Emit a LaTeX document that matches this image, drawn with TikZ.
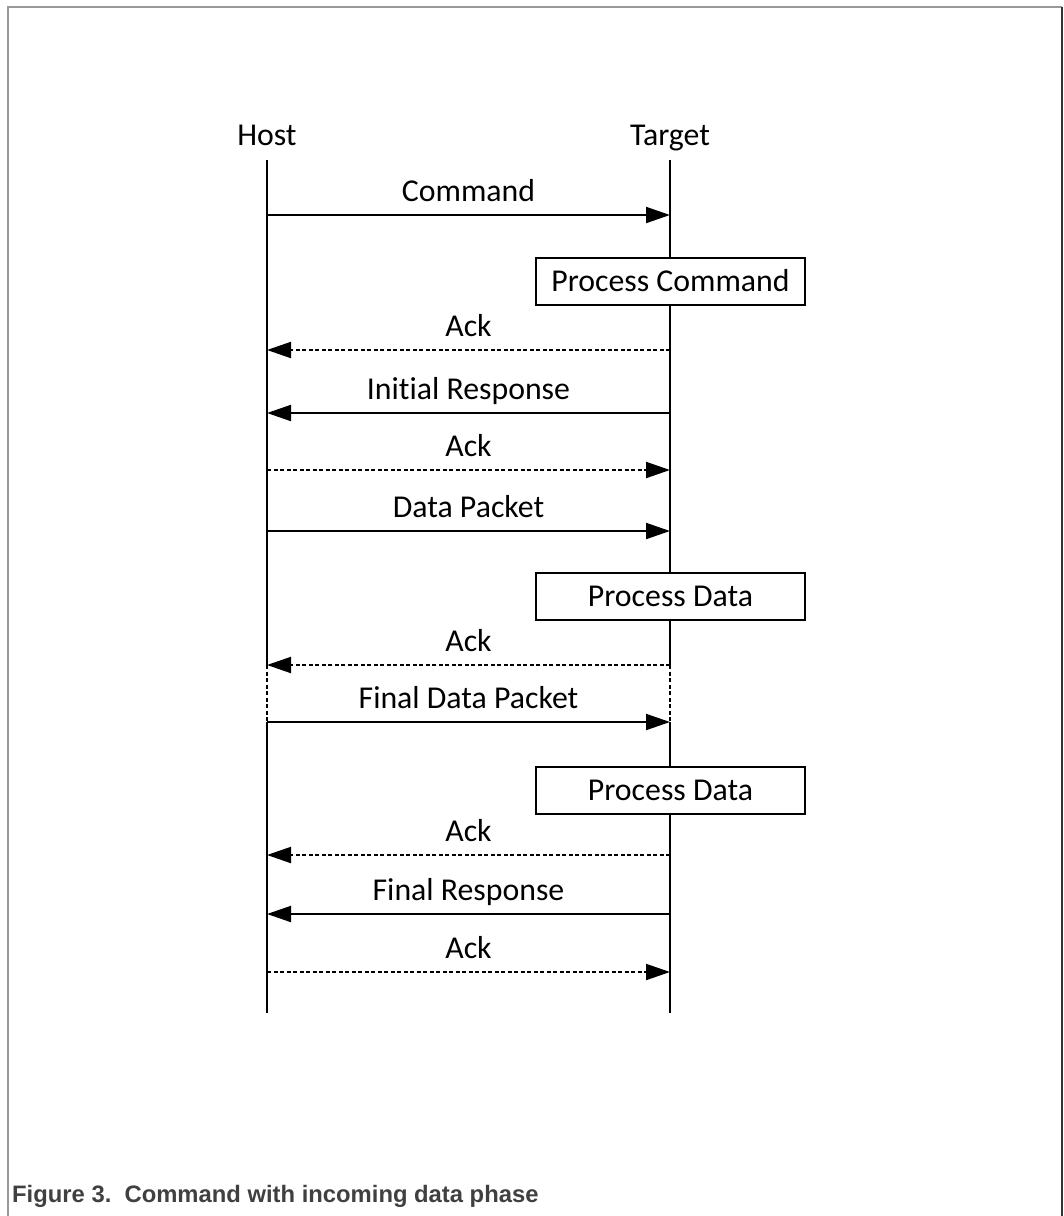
\documentclass[tikz,border=0pt]{standalone}
\usepackage{fontspec}
\setmainfont[Ligatures=NoCommon]{Carlito}
\newfontfamily\capfont{Liberation Sans}
\usetikzlibrary{arrows.meta}
\begin{document}
\begin{tikzpicture}[x=1pt,y=-1pt,
  lbl/.style={font=\fontsize{31.8}{38}\selectfont, inner sep=0pt, anchor=base},
  life/.style={line width=2pt},
  msg/.style={line width=2pt, -{Triangle[length=24pt,width=16pt]}},
  reply/.style={msg, dash pattern=on 4pt off 2.5pt},
  gap/.style={line width=2pt, dash pattern=on 4pt off 2.5pt},
  procbox/.style={draw, line width=2pt, fill=white, minimum width=269pt,
    minimum height=47pt, inner sep=0pt, font=\fontsize{31.8}{38}\selectfont}]
  \useasboundingbox (0,0) rectangle (1064,1216);

  % page frame
  \draw[line width=2pt, black!40] (8,1216) -- (8,7) -- (1062,7);
  \draw[line width=2pt, black!80] (1062,7) -- (1062,1216);

  % participants
  \node[lbl] (host) at (267,145) {Host};
  \node[lbl] (target) at (670,145) {Target};

  % lifeline end points and message levels
  \coordinate (hs) at (267,160);  \coordinate (ts) at (670,160);
  \coordinate (he) at (267,1013); \coordinate (te) at (670,1013);
  \foreach \n/\y in {1/215,2/350,3/413,4/470,5/531,6/665,7/722,8/855,9/914,10/972}{
    \coordinate (h\n) at (267,\y);
    \coordinate (t\n) at (670,\y);
  }

  % lifelines, dashed between the last data ack and the final packet
  \draw[life] (hs) -- (h6);  \draw[gap] (h6) -- (h7);  \draw[life] (h7) -- (he);
  \draw[life] (ts) -- (t6);  \draw[gap] (t6) -- (t7);  \draw[life] (t7) -- (te);

  % processing steps on the target
  \node[procbox] (pc) at (670.5,281) {Process Command};
  \node[procbox] (pd1) at (670.5,596.5) {Process Data};
  \node[procbox] (pd2) at (670.5,790.5) {Process Data};

  % messages
  \draw[msg]   (h1)  -- node[lbl, pos=0.5, yshift=14pt] {Command} (t1);
  \draw[reply] (t2)  -- node[lbl, pos=0.5, yshift=14pt] {Ack} (h2);
  \draw[msg]   (t3)  -- node[lbl, pos=0.5, yshift=14pt] {Initial Response} (h3);
  \draw[reply] (h4)  -- node[lbl, pos=0.5, yshift=14pt] {Ack} (t4);
  \draw[msg]   (h5)  -- node[lbl, pos=0.5, yshift=14pt] {Data Packet} (t5);
  \draw[reply] (t6)  -- node[lbl, pos=0.5, yshift=14pt] {Ack} (h6);
  \draw[msg]   (h7)  -- node[lbl, pos=0.5, yshift=14pt] {Final Data Packet} (t7);
  \draw[reply] (t8)  -- node[lbl, pos=0.5, yshift=14pt] {Ack} (h8);
  \draw[msg]   (t9)  -- node[lbl, pos=0.5, yshift=14pt] {Final Response} (h9);
  \draw[reply] (h10) -- node[lbl, pos=0.5, yshift=14pt] {Ack} (t10);

  % caption
  \node[anchor=base west, inner sep=0pt, text=black!75,
    font=\capfont\bfseries\fontsize{23.8}{28}\selectfont] (cap) at (12,1202)
    {Figure 3.\ \ Command with incoming data phase};
\end{tikzpicture}
\end{document}
